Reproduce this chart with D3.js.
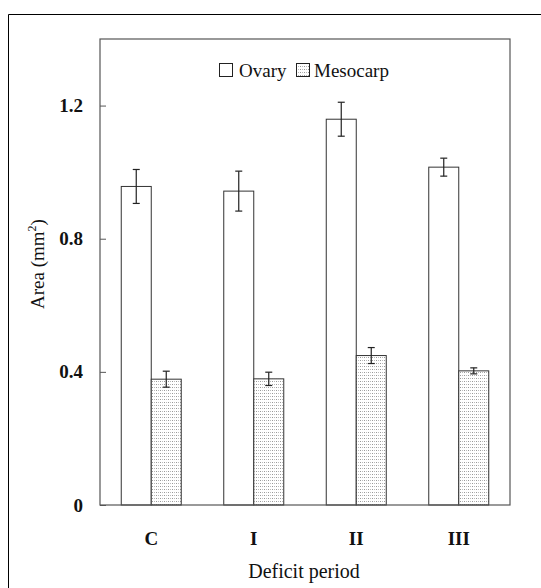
<!DOCTYPE html>
<html><head><meta charset="utf-8">
<script src="https://cdn.jsdelivr.net/npm/d3@7"></script>
<style>body{margin:0;background:#fff}svg{display:block}text{font-family:"Liberation Serif","Times New Roman",serif}</style>
</head><body>
<svg id="c" width="541" height="588"></svg>
<script>
const categories = ["C", "I", "II", "III"];
const seriesNames = ["Ovary", "Mesocarp"];
const ovary = [0.957, 0.943, 1.159, 1.015];
const ovaryErr = [0.051, 0.060, 0.051, 0.027];
const mesocarp = [0.378, 0.379, 0.449, 0.403];
const mesocarpErr = [0.024, 0.020, 0.024, 0.009];
const yTicks = [0, 0.4, 0.8, 1.2];
const yTickLabels = ["0", "0.4", "0.8", "1.2"];

const svg = d3.select("#c");
const m = {l:100, t:39, r:510, b:505};

const defs = svg.append("defs");
const pat = defs.append("pattern").attr("id","dots").attr("patternUnits","userSpaceOnUse")
  .attr("width",4).attr("height",3);
pat.append("rect").attr("width",4).attr("height",3).attr("fill","#fff");
pat.append("rect").attr("x",0).attr("y",0).attr("width",1).attr("height",1).attr("fill","#999");
pat.append("rect").attr("x",2).attr("y",0).attr("width",1).attr("height",1).attr("fill","#bbb");

// outer border
svg.append("path").attr("d","M8.5,600 V14.5 H560").attr("fill","none").attr("stroke","#000").attr("stroke-width",1);

const x = d3.scaleBand().domain(categories).range([m.l, m.r]);
const xs = d3.scaleBand().domain(seriesNames).range([0, 60]);
const y = d3.scaleLinear().domain([0, 1.4]).range([m.b, m.t]);

const data = [
  {name:"Ovary", vals: ovary, errs: ovaryErr, fill:"#fff"},
  {name:"Mesocarp", vals: mesocarp, errs: mesocarpErr, fill:"url(#dots)"}
];

const g = svg.append("g");
data.forEach(s => {
  categories.forEach((c, i) => {
    const x0 = x(c) + x.bandwidth()/2 - 30 + xs(s.name);
    g.append("rect").attr("x", x0).attr("y", y(s.vals[i]))
      .attr("width", xs.bandwidth()).attr("height", y(0) - y(s.vals[i]))
      .attr("fill", s.fill).attr("stroke", "#333").attr("stroke-width", 1);
  });
});
data.forEach(s => {
  categories.forEach((c, i) => {
    const cx = x(c) + x.bandwidth()/2 - 30 + xs(s.name) + xs.bandwidth()/2;
    const hi = y(s.vals[i] + s.errs[i]), lo = y(s.vals[i] - s.errs[i]);
    g.append("line").attr("x1", cx).attr("x2", cx).attr("y1", hi).attr("y2", lo).attr("stroke","#222").attr("stroke-width",1.2);
    [hi, lo].forEach(yy => g.append("line").attr("x1", cx-3.5).attr("x2", cx+3.5).attr("y1", yy).attr("y2", yy).attr("stroke","#222").attr("stroke-width",1.2));
  });
});

// frame
svg.append("rect").attr("x", m.l).attr("y", m.t).attr("width", m.r-m.l).attr("height", m.b-m.t)
  .attr("fill","none").attr("stroke","#555").attr("stroke-width",1.2);

// y axis
const yAxis = d3.axisLeft(y).tickValues(yTicks).tickSize(-6).tickPadding(17)
  .tickFormat((d,i) => yTickLabels[i]);
const ya = svg.append("g").attr("transform", `translate(${m.l},0)`).call(yAxis);
ya.select(".domain").remove();
ya.selectAll(".tick line").attr("stroke","#555");
ya.selectAll(".tick text").attr("font-size",19).attr("font-weight","bold").attr("fill","#111")
  .attr("font-family","Liberation Serif, serif").attr("x", -17);

// x axis
const xAxis = d3.axisBottom(x).tickSize(0).tickPadding(27);
const xa = svg.append("g").attr("transform", `translate(0,${m.b})`).call(xAxis);
xa.select(".domain").remove();
xa.selectAll(".tick text").attr("font-size",19).attr("font-weight","bold").attr("fill","#111")
  .attr("font-family","Liberation Serif, serif");

// axis titles
svg.append("text").attr("x", 304).attr("y", 578).attr("text-anchor","middle")
  .attr("font-size",20).attr("fill","#111").text("Deficit period");
const yl = svg.append("text").attr("transform","translate(44,264) rotate(-90)")
  .attr("text-anchor","middle").attr("font-size",19).attr("fill","#111");
yl.append("tspan").text("Area (mm");
yl.append("tspan").attr("dy",-8).attr("font-size",12).text("2");
yl.append("tspan").attr("dy",8).text(")");

// legend
const lg = svg.append("g");
lg.append("rect").attr("x",219.5).attr("y",63.5).attr("width",13).attr("height",13).attr("fill","#fff").attr("stroke","#222");
lg.append("text").attr("x",239).attr("y",77).attr("font-size",19).attr("fill","#111").text(seriesNames[0]);
lg.append("rect").attr("x",296.5).attr("y",63.5).attr("width",13).attr("height",13).attr("fill","url(#dots)").attr("stroke","#222");
lg.append("text").attr("x",314).attr("y",77).attr("font-size",19).attr("fill","#111").text(seriesNames[1]);
</script>
</body></html>
